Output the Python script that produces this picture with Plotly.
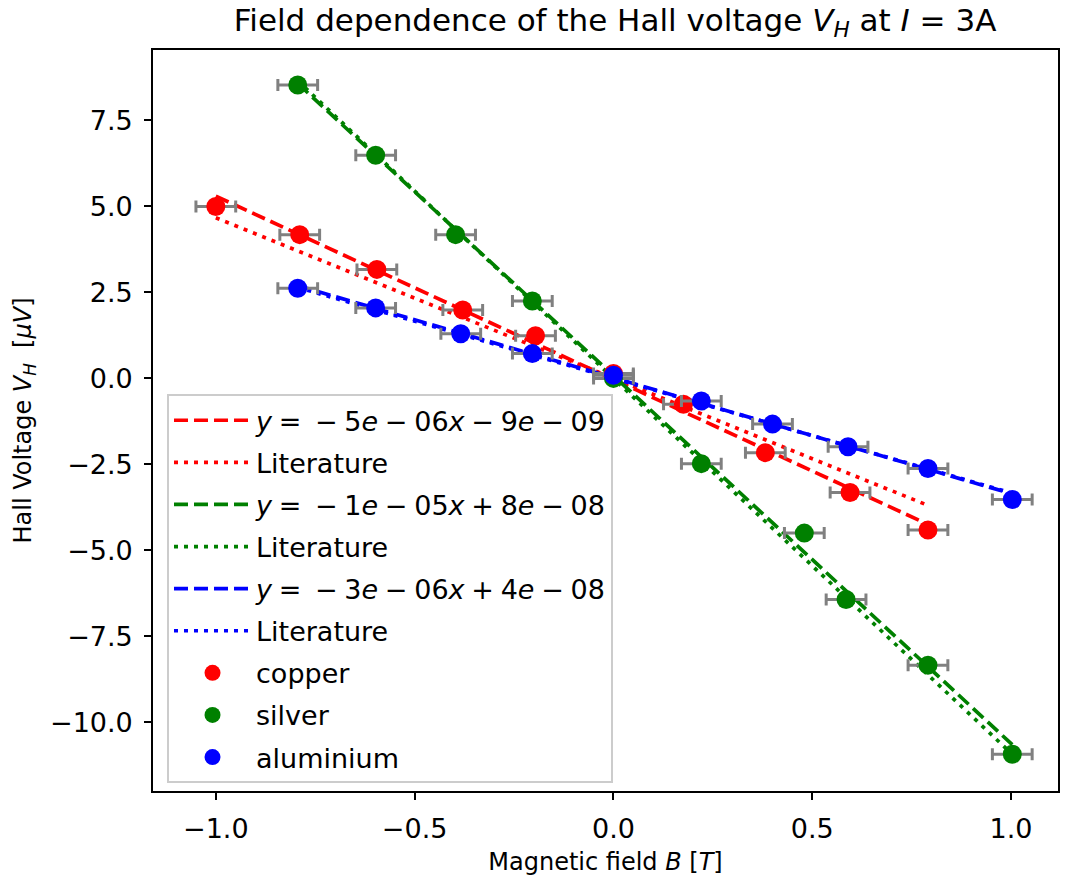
import plotly.graph_objects as go

# ---- data (B in T, V_H in µV) ----
copper_B = [-1.0, -0.789, -0.595, -0.379, -0.196, 0.0, 0.176, 0.382, 0.595, 0.791]
copper_V = [5.0, 4.18, 3.17, 1.99, 1.24, 0.14, -0.75, -2.16, -3.32, -4.41]
silver_B = [-0.794, -0.598, -0.397, -0.204, 0.0, 0.221, 0.48, 0.585, 0.791, 1.003]
silver_V = [8.53, 6.49, 4.18, 2.25, 0.0, -2.48, -4.5, -6.43, -8.34, -10.93]
alu_B = [-0.794, -0.598, -0.384, -0.204, 0.0, 0.221, 0.40, 0.59, 0.791, 1.003]
alu_V = [2.62, 2.05, 1.30, 0.72, 0.09, -0.66, -1.33, -1.99, -2.62, -3.52]
B_err = [0.05, 0.05, 0.05, 0.05, 0.05, 0.05, 0.05, 0.05, 0.05, 0.05]

# fit / literature parameters (slope, intercept) in µV/T, µV
copper_fit = (-5.33, -0.03)
copper_lit = (-4.67, 0.0)
silver_fit = (-10.7, 0.08)
silver_lit = (-10.9, 0.0)
alu_fit = (-3.37, 0.02)
alu_lit = (-3.33, 0.0)

S = "\u2005"
fit_labels = [
    f"<i>y</i>{S}={S}{S}\u2212{S}5<i>e</i>{S}\u2212{S}06<i>x</i>{S}\u2212{S}9<i>e</i>{S}\u2212{S}09",
    f"<i>y</i>{S}={S}{S}\u2212{S}1<i>e</i>{S}\u2212{S}05<i>x</i>{S}+{S}8<i>e</i>{S}\u2212{S}08",
    f"<i>y</i>{S}={S}{S}\u2212{S}3<i>e</i>{S}\u2212{S}06<i>x</i>{S}+{S}4<i>e</i>{S}\u2212{S}08",
]

FONT = "DejaVu Sans"
fig = go.Figure()

DASH = "14px,6px"
DOT = "4px,6px"
LW = 3.7

series = [
    ("red", copper_B, copper_fit, copper_lit, fit_labels[0]),
    ("green", silver_B, silver_fit, silver_lit, fit_labels[1]),
    ("blue", alu_B, alu_fit, alu_lit, fit_labels[2]),
]
g = 0
for color, xs, fit, lit, lab in series:
    g += 1
    fig.add_trace(go.Scatter(x=xs, y=[fit[0] * x + fit[1] for x in xs], mode="lines",
                             line=dict(color=color, width=LW, dash=DASH), name=lab,
                             legendgroup="g%d" % g))
    g += 1
    fig.add_trace(go.Scatter(x=xs, y=[lit[0] * x + lit[1] for x in xs], mode="lines",
                             line=dict(color=color, width=LW, dash=DOT), name="Literature",
                             legendgroup="g%d" % g))

for name, color, xs, ys in [("copper", "red", copper_B, copper_V),
                            ("silver", "green", silver_B, silver_V),
                            ("aluminium", "blue", alu_B, alu_V)]:
    g += 1
    fig.add_trace(go.Scatter(x=xs, y=ys, mode="markers", name=name, legendgroup="g%d" % g,
                             marker=dict(color=color, size=19, line=dict(width=0)),
                             error_x=dict(type="data", array=B_err, color="gray",
                                          thickness=3, width=6)))

# page body has an 8px margin: figure is sized/margined to compensate
fig.update_layout(
    width=1065, height=875,
    paper_bgcolor="white", plot_bgcolor="white",
    margin=dict(l=145, r=15, t=42, b=86),
    font=dict(family=FONT, size=24, color="black"),
    title=dict(text="Field dependence of the Hall voltage <i>V<sub>H</sub></i> at <i>I</i> = 3A",
               x=0.570, xanchor="center", xref="container", y=1.0, yanchor="top",
               pad=dict(t=1, b=0, l=0, r=0),
               font=dict(size=31, family=FONT)),
    showlegend=True,
    legend=dict(x=0.0155, y=0.5355, xanchor="left", yanchor="top",
                bgcolor="rgba(255,255,255,0.8)", bordercolor="#cccccc", borderwidth=2,
                font=dict(size=27, family=FONT), itemwidth=77, tracegroupgap=4),
)
fig.update_xaxes(range=[-1.158, 1.118], tickvals=[-1.0, -0.5, 0.0, 0.5, 1.0], tickformat=".1f",
                 showgrid=False, zeroline=False, showline=True, linecolor="black", linewidth=1.6,
                 mirror=True, ticks="outside", ticklen=7, tickwidth=1.6, tickcolor="black",
                 tickfont=dict(size=27), ticklabelstandoff=6,
                 title=dict(text="Magnetic field <i>B</i> [<i>T</i>]", font=dict(size=24), standoff=10))
fig.update_yaxes(range=[-12.0, 9.55], tickvals=[-10.0, -7.5, -5.0, -2.5, 0.0, 2.5, 5.0, 7.5], tickformat=".1f",
                 showgrid=False, zeroline=False, showline=True, linecolor="black", linewidth=1.6,
                 mirror=True, ticks="outside", ticklen=7, tickwidth=1.6, tickcolor="black",
                 tickfont=dict(size=27), ticklabelstandoff=6,
                 title=dict(text="Hall Voltage <i>V<sub>H</sub></i> \u00a0[<i>\u00b5V</i>]", font=dict(size=24), standoff=12))

fig.write_html("out.html")
